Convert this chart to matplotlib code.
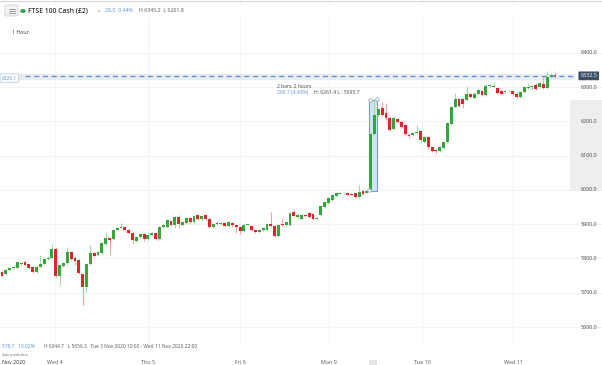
import matplotlib.pyplot as plt
import matplotlib.patches as mpatches
from matplotlib.lines import Line2D

# hourly FTSE 100 cash candles (open, high, low, close)
opens = [5762, 5755, 5766, 5771, 5773, 5784, 5791, 5783, 5774, 5761,
         5776, 5785, 5798, 5802, 5828, 5750, 5779, 5786, 5818, 5802,
         5796, 5754, 5718, 5784, 5815, 5810, 5815, 5841, 5861, 5856,
         5883, 5890, 5891, 5883, 5873, 5852, 5864, 5870, 5856, 5869,
         5875, 5856, 5891, 5893, 5910, 5898, 5922, 5899, 5904, 5917,
         5905, 5927, 5914, 5926, 5914, 5891, 5903, 5900, 5903, 5895,
         5903, 5899, 5891, 5881, 5899, 5895, 5883, 5876, 5883, 5883,
         5901, 5895, 5866, 5900, 5898, 5899, 5935, 5920, 5914, 5928,
         5932, 5930, 5914, 5927, 5951, 5963, 5972, 5982, 5989, 5990,
         5990, 5989, 5990, 5980, 5996, 5992, 5999, 6163, 6218, 6238,
         6225, 6211, 6179, 6208, 6199, 6189, 6160, 6160, 6166, 6173,
         6140, 6155, 6124, 6116, 6114, 6121, 6140, 6192, 6241, 6264,
         6265, 6262, 6279, 6267, 6281, 6289, 6277, 6303, 6300, 6296,
         6289, 6284, 6289, 6289, 6281, 6270, 6286, 6298, 6300, 6305,
         6299, 6310, 6296, 6330, 6334]
highs = [5765, 5768, 5773, 5778, 5793, 5790, 5793, 5785, 5776, 5781,
         5810, 5803, 5806, 5841, 5831, 5784, 5791, 5834, 5822, 5808,
         5799, 5756, 5787, 5839, 5818, 5823, 5847, 5873, 5863, 5886,
         5893, 5903, 5893, 5885, 5876, 5867, 5873, 5873, 5871, 5876,
         5878, 5896, 5901, 5915, 5913, 5925, 5927, 5909, 5920, 5920,
         5927, 5930, 5927, 5929, 5917, 5904, 5905, 5906, 5906, 5908,
         5905, 5902, 5894, 5902, 5902, 5898, 5886, 5886, 5893, 5904,
         5936, 5898, 5902, 5917, 5910, 5936, 5945, 5930, 5930, 5931,
         5935, 5933, 5921, 5956, 5968, 5978, 5988, 5992, 5993, 5993,
         5992, 5991, 5992, 6015, 5999, 5999, 6166, 6261.4, 6240, 6257,
         6254, 6214, 6214, 6211, 6202, 6192, 6165, 6170, 6190, 6176,
         6156, 6158, 6127, 6118, 6127, 6143, 6197, 6246, 6282, 6267,
         6268, 6303, 6282, 6284, 6294, 6292, 6310, 6308, 6315, 6299,
         6292, 6292, 6292, 6292, 6284, 6289, 6302, 6309, 6306, 6312,
         6315, 6330, 6345.2, 6340, 6343]
lows = [5747, 5752, 5764, 5769, 5771, 5781, 5779, 5768, 5758, 5759,
        5774, 5783, 5796, 5800, 5745, 5723, 5776, 5783, 5796, 5781,
        5754, 5664, 5703, 5782, 5804, 5807, 5813, 5838, 5810, 5853,
        5881, 5888, 5881, 5870, 5844, 5849, 5861, 5852, 5853, 5866,
        5853, 5853, 5888, 5890, 5895, 5888, 5888, 5896, 5901, 5902,
        5902, 5911, 5911, 5913, 5888, 5888, 5899, 5897, 5892, 5892,
        5892, 5874, 5871, 5878, 5897, 5880, 5873, 5873, 5880, 5880,
        5892, 5863, 5863, 5895, 5895, 5896, 5922, 5917, 5911, 5922,
        5919, 5911, 5911, 5924, 5948, 5960, 5969, 5980, 5987, 5988,
        5982, 5984, 5977, 5977, 5984, 5990, 5995.7, 6160, 6215, 6215,
        6205, 6172, 6175, 6196, 6180, 6158, 6152, 6157, 6163, 6141,
        6137, 6120, 6110, 6106, 6111, 6118, 6137, 6189, 6238, 6242,
        6240, 6258, 6269, 6264, 6278, 6274, 6274, 6300, 6297, 6280,
        6278, 6281, 6286, 6276, 6267, 6267, 6283, 6295, 6292, 6292,
        6296, 6293, 6293, 6327, 6325]
closes = [5750, 5766, 5771, 5775, 5789, 5787, 5781, 5771, 5761, 5776,
          5785, 5800, 5802, 5828, 5748, 5781, 5788, 5818, 5800, 5794,
          5757, 5718, 5784, 5815, 5807, 5820, 5844, 5861, 5855, 5883,
          5890, 5893, 5883, 5873, 5854, 5864, 5870, 5858, 5869, 5873,
          5856, 5893, 5898, 5912, 5898, 5922, 5900, 5906, 5917, 5905,
          5924, 5914, 5924, 5916, 5891, 5901, 5901, 5903, 5895, 5905,
          5899, 5891, 5881, 5899, 5900, 5883, 5876, 5883, 5890, 5901,
          5895, 5866, 5899, 5898, 5905, 5932, 5925, 5927, 5927, 5925,
          5922, 5914, 5918, 5953, 5965, 5975, 5985, 5990, 5991, 5991,
          5985, 5986, 5980, 5995, 5987, 5997, 6163, 6218, 6235, 6218,
          6209, 6176, 6211, 6199, 6184, 6163, 6158, 6167, 6170, 6145,
          6153, 6124, 6114, 6112, 6124, 6140, 6194, 6243, 6264, 6245,
          6250, 6281, 6272, 6281, 6291, 6277, 6303, 6305, 6302, 6283,
          6281, 6289, 6288, 6279, 6270, 6286, 6299, 6301, 6302, 6295,
          6312, 6296, 6330, 6336, 6332.5]

day_labels = ["Wed 4", "Thu 5", "Fri 6", "Mon 9", "Tue 10", "Wed 11"]
day_starts = [13.8, 38.0, 62.0, 85.2, 109.4, 133.1]   # in bar units
price_ticks = [5600, 5700, 5800, 5900, 6000, 6100, 6200, 6300, 6400]
last_price = 6332.5
alert_price = 6326.1
sel_high, sel_low = 6261.4, 5995.7
sel_bars = [96, 97]

W, H = 602, 365
GREEN, RED = "#35a63a", "#e2232a"
GREEN_W, RED_W = "#a6d8a6", "#f2a5a5"
BLUE = "#5592d2"

fig = plt.figure(figsize=(W / 100, H / 100), dpi=100)
ax = fig.add_axes([0, 0, 1, 1])
bar_px = 3.84
ax.set_xlim(-2 / bar_px, (W - 2) / bar_px)
ax.set_ylim(6400 - (H - 52.7) / 0.343, 6400 + 52.7 / 0.343)
ax.axis("off")


def fx(px):
    return px / W


def fy(py):
    return 1 - py / H


# grid
for p in price_ticks:
    ax.axhline(p, color="#f3f3f3", lw=0.8, zorder=0)
for d in day_starts:
    ax.axvline(d, ymin=fy(343), ymax=1, color="#f3f3f3", lw=0.8, zorder=0)

# y axis highlight of the selected range
ax.axhspan(sel_low, sel_high, xmin=fx(570), xmax=1, color="#eeeeee", lw=0, zorder=1)

# selection box over the two bars (behind the bodies)
x0 = sel_bars[0] - 0.45
x1 = sel_bars[-1] + 0.7
ax.add_patch(mpatches.Rectangle((x0, sel_low), x1 - x0, sel_high - sel_low,
                                facecolor="#d3e3f5", edgecolor="#6fa0d6",
                                lw=0.8, zorder=1.5))

# candles
idx = list(range(len(closes)))
for i in idx:
    up = closes[i] >= opens[i]
    ax.vlines(i, lows[i], highs[i], color=GREEN_W if up else RED_W, lw=0.8, zorder=2)
    lo, hi = min(opens[i], closes[i]), max(opens[i], closes[i])
    ax.bar(i, max(hi - lo, 1.5), bottom=lo, width=0.74,
           color=GREEN if up else RED, lw=0, zorder=3)

ax.plot([sel_bars[0] - 0.1, sel_bars[-1] + 0.55], [sel_high, sel_high + 3], "o",
        ms=2.5, mfc="white", mec="#8a9bb0", mew=0.5, zorder=5)
ax.plot([sel_bars[0] - 0.4], [sel_low + 5], "o", ms=2.5, mfc="white",
        mec="#8a9bb0", mew=0.5, zorder=5)
ax.add_patch(mpatches.Rectangle((x0, 0), x1 - x0, 0.015, transform=ax.get_xaxis_transform(),
                                facecolor="#e4e4e4", lw=0, zorder=1))

# price lines
ax.axhline(alert_price + 2, xmin=0, xmax=fx(572), color="#e8ebef", lw=4.5, zorder=1)
ax.axhline(last_price, xmin=fx(25), xmax=fx(573), color=BLUE, lw=0.9,
           dashes=(4, 3), zorder=6)

fs = 3.9
font = "Open Sans"
ytr = ax.get_yaxis_transform()
for p in price_ticks:
    ax.text(0.992, p, f"{p:.1f}", transform=ytr, ha="right", va="center",
            fontsize=fs, color="#444444", family=font, zorder=7)

ax.text(0.992, last_price, f"{last_price:.1f}", transform=ytr, ha="right", va="center",
        fontsize=fs, color="white", family=font, zorder=9,
        bbox=dict(boxstyle="round,pad=0.35,rounding_size=0.15", fc="#3e5064", ec="none"))
ax.text(0.003, alert_price, f"{alert_price:.1f}", transform=ytr, ha="left", va="center",
        fontsize=fs - 0.4, color=BLUE, family=font, zorder=9,
        bbox=dict(boxstyle="round,pad=0.35,rounding_size=0.15", fc="white", ec="#aac6e6", lw=0.5))

# selection annotation
ax.text(fx(277), fy(86), "2 bars, 2 hours", transform=ax.transAxes, ha="left",
        va="center", fontsize=3.6, color="#444444", family=font, zorder=8)
ax.text(fx(277), fy(92.5), "265.7 (4.43%)", transform=ax.transAxes, ha="left",
        va="center", fontsize=3.6, color=BLUE, family=font, zorder=8)
ax.text(fx(314), fy(92.5), "H: 6261.4 L : 5995.7", transform=ax.transAxes, ha="left",
        va="center", fontsize=3.6, color="#444444", family=font, zorder=8)

# header
fig.add_artist(Line2D([0, 1], [fy(0.5), fy(0.5)], color="#d5d5d5", lw=0.8))
fig.add_artist(mpatches.Rectangle((0, fy(17)), 1, fy(5) - fy(17), facecolor="white",
                                  lw=0, transform=fig.transFigure))
fig.add_artist(mpatches.FancyBboxPatch((fx(5), fy(16)), fx(13), fy(5) - fy(16),
                                       boxstyle="round,pad=0,rounding_size=0.003",
                                       facecolor="#f3f3f3", edgecolor="#c8c8c8", lw=0.5,
                                       transform=fig.transFigure))
for yy in (8.5, 10.5, 12.5):
    fig.add_artist(Line2D([fx(8.5), fx(14.5)], [fy(yy), fy(yy)], color="#777777", lw=0.5))
fig.add_artist(mpatches.Circle((fx(23), fy(11)), 0.0035, color="#2fa84f",
                               transform=fig.transFigure))
fig.text(fx(27.5), fy(11), "FTSE 100 Cash (£2)", ha="left", va="center", fontsize=4.9,
         fontweight="semibold", color="#333333", family=font)
fig.text(fx(97), fy(11), "⌄", ha="left", va="center", fontsize=4, color="#888888")
fig.text(fx(105), fy(11), "28.0  0.44%", ha="left", va="center", fontsize=3.8,
         color=BLUE, family=font)
fig.text(fx(139), fy(11), "H 6345.2  L 6261.8", ha="left", va="center", fontsize=3.8,
         color="#555555", family=font)
fig.text(fx(12), fy(33), "1 Hour", ha="left", va="center", fontsize=3.8,
         color="#333333", family=font)

# footer
fig.text(fx(2), fy(346), "576.7   10.02%", ha="left", va="center", fontsize=3.5,
         color=BLUE, family=font)
fig.text(fx(44), fy(346), "H 6344.7   L 5656.3   Tue 3 Nov 2020 10:00 - Wed 11 Nov 2020 22:00",
         ha="left", va="center", fontsize=3.5, color="#555555", family=font)
fig.text(fx(2), fy(355), "data is indicative", ha="left", va="center", fontsize=2.4,
         color="#666666", family=font)
fig.text(fx(2), fy(363), "Nov 2020", ha="left", va="center", fontsize=3.9,
         color="#333333", family=font)
xtr = ax.get_xaxis_transform()
for d, lab in zip(day_starts, day_labels):
    ax.text(d, fy(363), lab, transform=xtr, ha="center", va="center", fontsize=3.9,
            color="#555555", family=font)

fig.savefig("out.png", dpi=100)
